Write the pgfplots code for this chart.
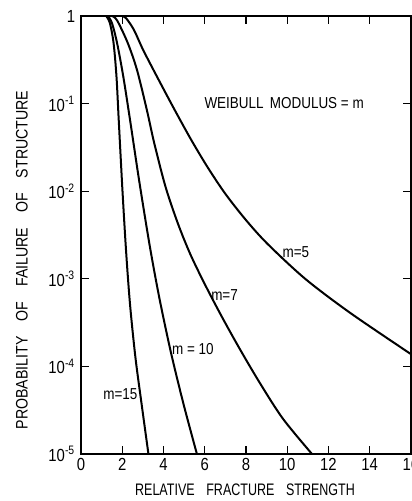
\documentclass[border=0pt]{standalone}
\usepackage{fontspec}
\setmainfont{Liberation Sans}[FakeStretch=0.85]
\newfontfamily\narrow{Liberation Sans}[FakeStretch=0.75]
\usepackage{pgfplots}
\pgfplotsset{compat=1.18}
\usetikzlibrary{calc}

\newcommand{\ex}[1]{\textsuperscript{#1}}

\begin{document}
\begin{tikzpicture}
\begin{axis}[
  name=ax,
  scale only axis,
  width=198pt, height=262.8pt,
  xmin=0, xmax=16,
  ymode=log,
  ymin=1e-5, ymax=1,
  xtick={0,2,...,16},
  ytick={1,1e-1,1e-2,1e-3,1e-4,1e-5},
  yticklabels={1,10\ex{-1},10\ex{-2},10\ex{-3},10\ex{-4},10\ex{-5}},
  minor ytick={},
  tick align=inside,
  major tick length=5pt,
  tick style={line width=0.8pt, black},
  axis line style={line width=0.9pt},
  /pgf/number format/assume math mode=true,
  tick label style={font=\fontsize{10.5}{12}\selectfont},
  xticklabel style={yshift=1pt},
  xlabel={\narrow RELATIVE\hspace{0.7em}FRACTURE\hspace{0.7em}STRENGTH},
  ylabel={PROBABILITY\hspace{0.9em}OF\hspace{0.9em}FAILURE\hspace{0.9em}OF\hspace{0.9em}STRUCTURE},
  label style={font=\fontsize{11}{13}\selectfont},
  every axis x label/.style={at={(axis description cs:0.497,-0.082)}, anchor=center},
  every axis y label/.style={at={(axis description cs:-0.179,0.443)}, anchor=center, rotate=90},
  curve/.style={black, line width=1.2pt, smooth, tension=0.5},
  clip=true,
]
% m = 15
\addplot[curve] coordinates {
  (1.22,1) (1.40,0.832) (1.58,0.490) (1.72,0.204) (1.83,0.0646) (2.01,0.0102)
  (2.19,0.002) (2.38,5.01e-4) (2.64,1.26e-4) (2.95,3.55e-5) (3.27,1e-5)
};
% m = 10
\addplot[curve] coordinates {
  (1.30,1) (1.50,0.832) (1.75,0.490) (2.05,0.204) (2.38,0.0646) (2.82,0.0132)
  (3.33,0.0024) (3.80,6.03e-4) (4.35,1.48e-4) (4.96,3.80e-5) (5.62,1e-5)
};
% m = 7
\addplot[curve] coordinates {
  (1.50,1) (1.75,0.891) (2.27,0.490) (2.72,0.240) (3.20,0.0832) (3.55,0.0355)
  (4.10,0.0112) (4.70,0.00427) (5.30,0.00191) (6.00,8.71e-4) (6.80,3.80e-4)
  (7.70,1.58e-4) (8.70,6.31e-5) (9.80,2.51e-5) (11.20,1e-5)
};
% m = 5
\addplot[curve] coordinates {
  (2.00,1) (2.19,0.942) (2.57,0.692) (3.02,0.407) (3.77,0.186) (4.56,0.0832)
  (5.36,0.0380) (6.15,0.0186) (7.00,0.00933) (8.00,0.00468) (9.04,0.00251)
  (10.87,0.001) (13.06,4.07e-4) (16.0,1.38e-4)
};

\node[anchor=center, font=\fontsize{9.5}{11}\selectfont] at (axis cs:9.85,0.102) {WEIBULL\hspace{0.4em}MODULUS = m};
\node[anchor=west, font=\fontsize{9.5}{11}\selectfont, inner sep=0pt] at (axis cs:9.76,0.00204) {m=5};
\node[anchor=west, font=\fontsize{9.5}{11}\selectfont, inner sep=0pt] at (axis cs:6.30,6.6e-4) {m=7};
\node[anchor=west, font=\fontsize{9.5}{11}\selectfont, inner sep=0pt] at (axis cs:4.40,1.58e-4) {m = 10};
\node[anchor=west, font=\fontsize{9.5}{11}\selectfont, inner sep=0pt] at (axis cs:1.07,4.8e-5) {m=15};
\end{axis}
\pgfresetboundingbox
\useasboundingbox ($(ax.south west)+(-48.6pt,-28.2pt)$) rectangle ($(ax.north east)+(0.6pt,9.6pt)$);
\end{tikzpicture}
\end{document}
